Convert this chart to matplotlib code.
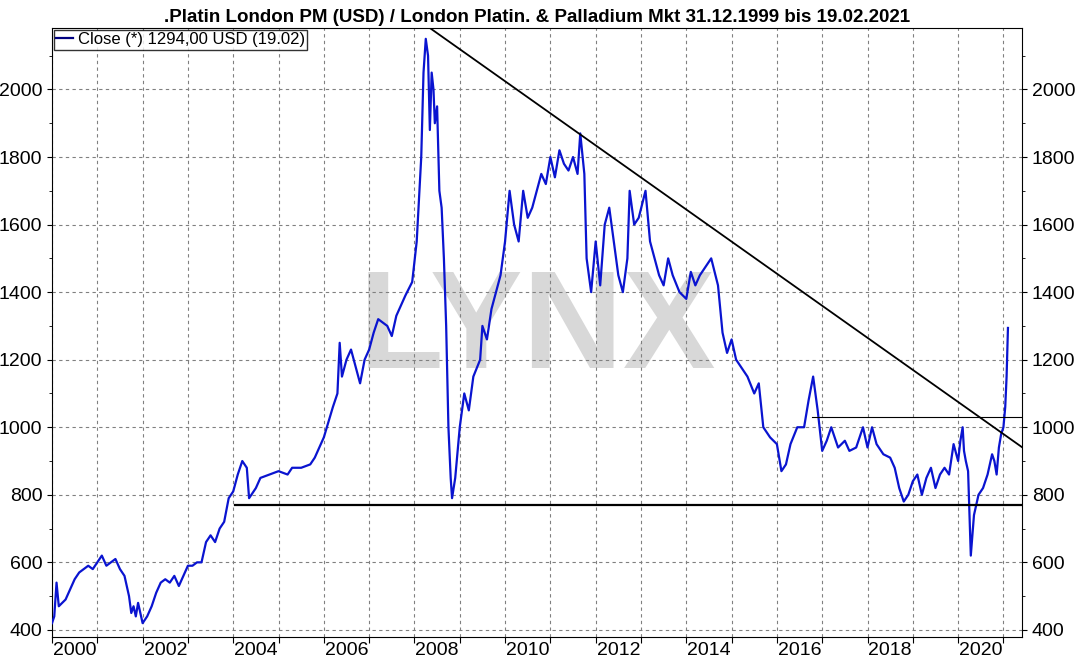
import matplotlib
matplotlib.use("Agg")
import matplotlib.pyplot as plt
import numpy as np

plt.rcParams["font.family"] = "Liberation Sans"

t = [2000.0,2000.05,2000.1,2000.15,2000.3,2000.4,2000.5,2000.6,2000.7,2000.8,2000.9,2001.0,2001.1,2001.2,2001.3,2001.4,2001.5,2001.6,2001.7,2001.75,2001.8,2001.85,2001.9,2002.0,2002.1,2002.2,2002.3,2002.4,2002.5,2002.6,2002.7,2002.8,2002.9,2003.0,2003.1,2003.2,2003.3,2003.4,2003.5,2003.6,2003.7,2003.8,2003.9,2004.0,2004.1,2004.2,2004.3,2004.35,2004.4,2004.5,2004.6,2004.8,2005.0,2005.2,2005.3,2005.5,2005.7,2005.8,2006.0,2006.2,2006.3,2006.35,2006.4,2006.5,2006.6,2006.8,2006.9,2007.0,2007.1,2007.2,2007.4,2007.5,2007.6,2007.8,2007.95,2008.05,2008.15,2008.2,2008.25,2008.3,2008.34,2008.38,2008.42,2008.45,2008.5,2008.55,2008.6,2008.65,2008.7,2008.75,2008.8,2008.83,2008.9,2009.0,2009.1,2009.2,2009.3,2009.45,2009.5,2009.6,2009.7,2009.8,2009.9,2010.0,2010.1,2010.2,2010.3,2010.4,2010.5,2010.6,2010.7,2010.8,2010.9,2011.0,2011.1,2011.2,2011.3,2011.4,2011.5,2011.6,2011.66,2011.75,2011.8,2011.9,2012.0,2012.1,2012.2,2012.3,2012.4,2012.5,2012.6,2012.7,2012.75,2012.85,2012.95,2013.1,2013.2,2013.3,2013.4,2013.5,2013.6,2013.7,2013.85,2014.0,2014.1,2014.2,2014.3,2014.45,2014.55,2014.7,2014.8,2014.9,2015.0,2015.1,2015.2,2015.35,2015.5,2015.6,2015.7,2015.85,2016.0,2016.1,2016.2,2016.3,2016.45,2016.6,2016.7,2016.8,2016.9,2017.0,2017.1,2017.2,2017.35,2017.5,2017.6,2017.75,2017.9,2018.0,2018.1,2018.2,2018.35,2018.5,2018.6,2018.7,2018.8,2018.9,2019.0,2019.1,2019.2,2019.3,2019.4,2019.5,2019.6,2019.7,2019.8,2019.9,2020.0,2020.05,2020.1,2020.13,2020.17,2020.22,2020.28,2020.35,2020.45,2020.55,2020.65,2020.75,2020.8,2020.85,2020.9,2020.95,2021.0,2021.04,2021.07,2021.1]
v = [420,440,540,470,490,520,550,570,580,590,580,600,620,590,600,610,580,560,500,450,470,440,480,420,440,470,510,540,550,540,560,530,560,590,590,600,600,660,680,660,700,720,790,810,860,900,880,790,800,820,850,860,870,860,880,880,890,910,970,1060,1100,1250,1150,1200,1230,1130,1200,1230,1280,1320,1300,1270,1330,1390,1430,1550,1800,2050,2150,2100,1880,2050,2000,1900,1950,1700,1650,1500,1300,1000,850,790,850,1000,1100,1050,1150,1200,1300,1260,1350,1400,1450,1550,1700,1600,1550,1700,1620,1650,1700,1750,1720,1800,1740,1820,1780,1760,1800,1750,1870,1750,1500,1400,1550,1420,1600,1650,1550,1450,1400,1500,1700,1600,1620,1700,1550,1500,1450,1420,1500,1450,1400,1380,1460,1420,1450,1480,1500,1420,1280,1220,1260,1200,1180,1150,1100,1130,1000,970,950,870,890,950,1000,1000,1080,1150,1050,930,960,1000,940,960,930,940,1000,940,1000,950,920,910,880,820,780,800,840,860,800,850,880,820,860,880,860,950,900,960,1000,930,900,870,620,740,800,820,860,920,900,860,940,980,1000,1060,1150,1294]

trend_x = [2008.34, 2021.41]
trend_y = [2182, 941]
support_x = [2004.04, 2021.41]
support_y = [770, 770]
resist_x = [2016.78, 2021.41]
resist_y = [1030, 1030]

fig = plt.figure(figsize=(10.8, 6.64), dpi=100)
ax = fig.add_axes([52/1080, 27/664, 970/1080, 609/664])
ax.text(0.5, 0.5, "LYNX", transform=ax.transAxes, fontsize=100, fontweight="bold",
        color="#d8d8d8", ha="center", va="center", zorder=0)
ax.plot(t, v, color="#0a14d0", lw=1.6, label="Close (*) 1294,00 USD (19.02)", zorder=3)
ax.plot(trend_x, trend_y, color="black", lw=1.3, zorder=4)
ax.plot(support_x, support_y, color="black", lw=1.6, zorder=4)
ax.plot(resist_x, resist_y, color="black", lw=0.8, zorder=4)

ax.set_xlim(2000, 2021.41)
ax.set_ylim(379, 2182)
ax.set_xticks(np.arange(2000, 2022, 1))
ax.set_xticklabels([])
ax.set_xticks(np.arange(2000.5, 2021, 2), minor=True)
ax.set_xticklabels([str(y) for y in range(2000, 2021, 2)], minor=True)
ax.tick_params(axis="x", which="minor", length=0, labelsize=14)
ax.tick_params(axis="x", which="major", length=4)
ax.set_yticks(np.arange(400, 2100, 200))
ax.set_yticks(np.arange(400, 2200, 100), minor=True)
ax.tick_params(axis="y", which="both", left=True, right=True, labelleft=True, labelright=True, labelsize=14)
ax.grid(True, which="major", color="#808080", linestyle=(0, (3, 3)), lw=0.8)
ax.set_title(".Platin London PM (USD) / London Platin. & Palladium Mkt 31.12.1999 bis 19.02.2021",
             fontsize=13.5, fontweight="bold", pad=4)
leg = ax.legend(loc="upper left", fontsize=12, frameon=True, fancybox=False,
                handlelength=1.0, borderpad=0.15, borderaxespad=0.1, handletextpad=0.3)
leg.get_frame().set_edgecolor("black")
leg.get_lines()[0].set_color("#000080")
fig.savefig("out.png", dpi=100)
